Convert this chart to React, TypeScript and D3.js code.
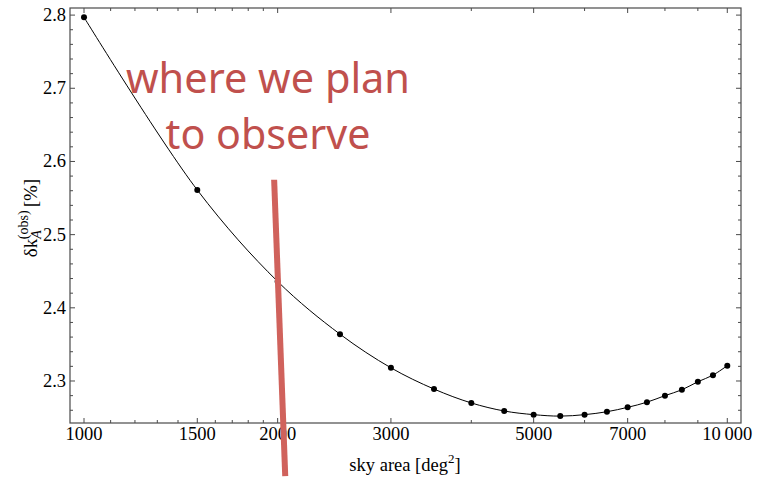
import React from "react";
import * as d3 from "d3";

// sky area [deg^2] vs. fractional error on kA
const skyArea = [1000, 1500, 2000, 2500, 3000, 3500, 4000, 4500, 5000, 5500, 6000, 6500, 7000, 7500, 8000, 8500, 9000, 9500, 10000];
const deltaK = [2.797, 2.561, 2.436, 2.364, 2.318, 2.289, 2.270, 2.259, 2.254, 2.252, 2.254, 2.258, 2.264, 2.271, 2.280, 2.288, 2.299, 2.308, 2.321];

const xMajorTicks = [1000, 1500, 2000, 3000, 5000, 7000, 10000];
const xMajorLabels = ["1000", "1500", "2000", "3000", "5000", "7000", "10\u2009000"];
const xMinorTicks = [1100, 1200, 1300, 1400, 1600, 1700, 1800, 1900, 4000, 6000, 8000, 9000];
const yMajorTicks = [2.3, 2.4, 2.5, 2.6, 2.7, 2.8];
const yMinorTicks = [2.26, 2.28, 2.32, 2.34, 2.36, 2.38, 2.42, 2.44, 2.46, 2.48, 2.52, 2.54, 2.56, 2.58, 2.62, 2.64, 2.66, 2.68, 2.72, 2.74, 2.76, 2.78, 2.80];

// hand-drawn marker across the plan region (data coordinates)
const markerLine = [
  { area: 1975, value: 2.575 },
  { area: 2055, value: 2.17 },
];
const noteLines = ["where we plan", "to observe"];

const W = 766;
const H = 479;
const left = 70, right = 741, top = 8, bottom = 423;

export default function App() {
  const x = d3.scaleLog().domain([951.1, 10503]).range([left, right]);
  const y = d3.scaleLinear().domain([2.2426, 2.8097]).range([bottom, top]);

  const pts = skyArea.map((a, i) => [x(a), y(deltaK[i])] as [number, number]);
  const path = d3.line().curve(d3.curveCatmullRom.alpha(0.5))(pts) || "";

  const frame = "#4a4a4a";
  const serif = "'Liberation Serif', 'Times New Roman', serif";
  const red = "#c0504d";
  const yMinorOnly = yMinorTicks.filter((v) => !yMajorTicks.some((m) => Math.abs(m - v) < 1e-6));

  return (
    <svg width={W} height={H} style={{ position: "absolute", left: 0, top: 0, background: "#fff" }}>
      <rect x={0} y={0} width={W} height={H} fill="#fff" />
      {/* curve and points */}
      <path d={path} fill="none" stroke="#000" strokeWidth={1} />
      {pts.map((p, i) => (
        <circle key={i} cx={p[0]} cy={p[1]} r={3} fill="#000" />
      ))}

      {/* frame */}
      <rect x={left} y={top} width={right - left} height={bottom - top} fill="none" stroke={frame} strokeWidth={1.2} />

      {/* x ticks, bottom and top */}
      {xMajorTicks.map((t) => (
        <g key={"xm" + t}>
          <line x1={x(t)} x2={x(t)} y1={bottom} y2={bottom - 5} stroke={frame} />
          <line x1={x(t)} x2={x(t)} y1={top} y2={top + 5} stroke={frame} />
        </g>
      ))}
      {xMinorTicks.map((t) => (
        <g key={"xn" + t}>
          <line x1={x(t)} x2={x(t)} y1={bottom} y2={bottom - 3} stroke={frame} />
          <line x1={x(t)} x2={x(t)} y1={top} y2={top + 3} stroke={frame} />
        </g>
      ))}
      {xMajorTicks.map((t, i) => (
        <text key={"xl" + t} x={x(t)} y={439.5} textAnchor="middle" fontFamily={serif} fontSize={18.5} fill="#000">
          {xMajorLabels[i]}
        </text>
      ))}

      {/* y ticks, left and right */}
      {yMajorTicks.map((t) => (
        <g key={"ym" + t}>
          <line x1={left} x2={left + 5} y1={y(t)} y2={y(t)} stroke={frame} />
          <line x1={right} x2={right - 5} y1={y(t)} y2={y(t)} stroke={frame} />
          <text x={66} y={y(t) + 6} textAnchor="end" fontFamily={serif} fontSize={18.5} fill="#000">
            {t.toFixed(1)}
          </text>
        </g>
      ))}
      {yMinorOnly.map((t) => (
        <g key={"yn" + t}>
          <line x1={left} x2={left + 3} y1={y(t)} y2={y(t)} stroke={frame} />
          <line x1={right} x2={right - 3} y1={y(t)} y2={y(t)} stroke={frame} />
        </g>
      ))}

      {/* axis titles */}
      <text x={405} y={471} textAnchor="middle" fontFamily={serif} fontSize={18.5} fill="#000">
        sky area [deg<tspan dy={-8} fontSize={13}>2</tspan><tspan dy={8}>]</tspan>
      </text>
      <text transform="translate(37,218) rotate(-90)" textAnchor="middle" fontFamily={serif} fontSize={19} fill="#000">
        δk
        <tspan dy={4} fontSize={14} fontStyle="italic">A</tspan>
        <tspan dx={-9} dy={-13} fontSize={14}>(obs)</tspan>
        <tspan dx={3} dy={9}>[%]</tspan>
      </text>

      {/* annotation */}
      <line
        x1={x(markerLine[0].area)}
        y1={y(markerLine[0].value)}
        x2={x(markerLine[1].area)}
        y2={y(markerLine[1].value)}
        stroke="#d0625c"
        strokeWidth={6}
      />
      <text x={268} y={93} textAnchor="middle" fontFamily="'Noto Sans', 'Open Sans', sans-serif" fontSize={41} fill={red} textLength={284} lengthAdjust="spacingAndGlyphs">
        {noteLines[0]}
      </text>
      <text x={268} y={149} textAnchor="middle" fontFamily="'Noto Sans', 'Open Sans', sans-serif" fontSize={41} fill={red} textLength={205} lengthAdjust="spacingAndGlyphs">
        {noteLines[1]}
      </text>
    </svg>
  );
}
